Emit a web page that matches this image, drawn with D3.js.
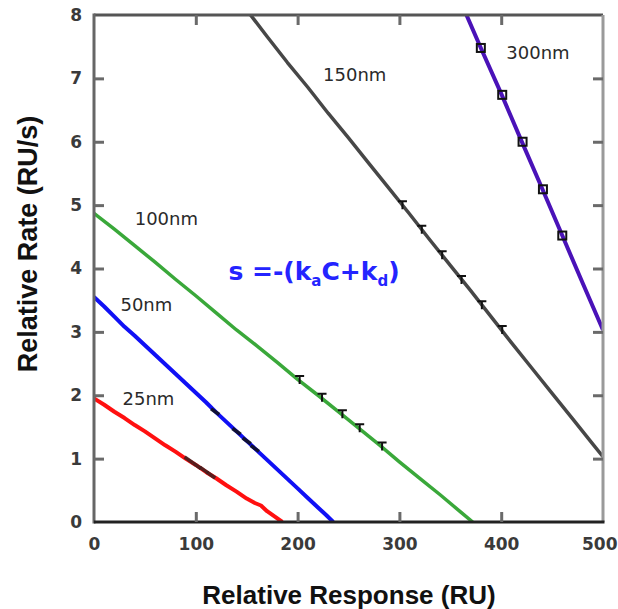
<!DOCTYPE html>
<html><head><meta charset="utf-8">
<script src="https://cdn.jsdelivr.net/npm/d3@7"></script>
<style>html,body{margin:0;padding:0;background:#fff;}svg{display:block;}</style>
</head><body>
<script>
// ---- data ----
const xTicks = [0, 100, 200, 300, 400, 500];
const yTicks = [0, 1, 2, 3, 4, 5, 6, 7, 8];
const seriesNames = ["25nm", "50nm", "100nm", "150nm", "300nm"];
const line25 = [[0,1.95],[10,1.85],[20,1.74],[30,1.64],[40,1.53],[50,1.43],[60,1.32],[70,1.21],[80,1.11],[90,1.00],[100,0.90],[110,0.79],[120,0.69],[130,0.58],[140,0.48],[150,0.37],[158,0.30],[164,0.26],[170,0.17],[178,0.08],[185,0]];
const line50 = [[0,3.55],[10,3.40],[20,3.24],[30,3.08],[40,2.94],[50,2.79],[60,2.64],[70,2.49],[80,2.34],[90,2.19],[100,2.04],[110,1.89],[120,1.73],[130,1.58],[140,1.43],[150,1.28],[160,1.13],[170,0.98],[180,0.83],[190,0.68],[200,0.53],[210,0.38],[220,0.23],[228,0.11],[235,0]];
const line100 = [[0,4.87],[20,4.62],[40,4.36],[60,4.10],[80,3.83],[100,3.57],[120,3.30],[140,3.03],[160,2.78],[180,2.52],[200,2.25],[220,2.00],[240,1.74],[260,1.48],[280,1.22],[300,0.95],[320,0.69],[340,0.43],[360,0.16],[372,0]];
const line150 = [[150,8.08],[170,7.66],[190,7.25],[210,6.86],[230,6.45],[250,6.06],[270,5.66],[290,5.26],[310,4.86],[330,4.45],[350,4.05],[370,3.65],[390,3.24],[410,2.83],[430,2.43],[450,2.03],[470,1.63],[490,1.23],[500,1.03]];
const line300 = [[364,8.07],[380,7.48],[400,6.76],[420,6.01],[440,5.27],[460,4.52],[480,3.77],[500,3.03]];
const pts25 = [[93,0.98],[101,0.89],[108,0.82],[115,0.74]];
const pts50 = [[119,1.74],[140,1.43],[150,1.28],[158,1.16]];
const pts100 = [[202,2.24],[224,1.96],[244,1.70],[261,1.48],[283,1.19]];
const pts150 = [[303,5.00],[322,4.61],[342,4.21],[361,3.82],[381,3.42],[401,3.03]];
const pts300 = [[380,7.48],[401,6.74],[421,6.00],[441,5.25],[460,4.52]];

// ---- layout ----
const W = 618, H = 609;
const L = 94, R = 603, T = 15, B = 522;
const x = d3.scaleLinear().domain([0, 500]).range([L, R]);
const y = d3.scaleLinear().domain([0, 8]).range([B, T]);

const svg = d3.select("body").append("svg").attr("width", W).attr("height", H);
svg.append("defs").append("clipPath").attr("id", "clip")
  .append("rect").attr("x", L).attr("y", T).attr("width", R - L).attr("height", B - T);

const lineGen = d3.line().x(d => x(d[0])).y(d => y(d[1]));
const g = svg.append("g").attr("clip-path", "url(#clip)");

const lines = [
  {d: line25, c: "#ff1010", w: 4},
  {d: line50, c: "#1010f5", w: 4},
  {d: line100, c: "#3aa83a", w: 3.5},
  {d: line150, c: "#474747", w: 3.5},
  {d: line300, c: "#4a12b8", w: 4}
];
lines.forEach(s => {
  g.append("path").datum(s.d).attr("d", lineGen)
    .attr("fill", "none").attr("stroke", s.c).attr("stroke-width", s.w)
    .attr("stroke-linejoin", "round").attr("stroke-linecap", "butt");
});

// markers
function blob(pts, fill) {
  g.selectAll(null).data(pts).enter().append("path")
    .attr("transform", d => `translate(${x(d[0])},${y(d[1])}) rotate(35)`)
    .attr("d", "M-5,-1.8 L5,-1.8 L5,1.8 L-5,1.8 Z").attr("fill", fill).attr("opacity", 0.85);
}
blob(pts25, "#3a2020");
blob(pts50, "#111");
function tee(pts) {
  g.selectAll(null).data(pts).enter().append("path")
    .attr("transform", d => `translate(${x(d[0])},${y(d[1])})`)
    .attr("d", "M-4.5,-4 L4.5,-4 M0,-4 L0,4")
    .attr("stroke", "#111").attr("stroke-width", 2).attr("fill", "none");
}
tee(pts100);
tee(pts150);
g.selectAll(null).data(pts300).enter().append("rect")
  .attr("x", d => x(d[0]) - 4).attr("y", d => y(d[1]) - 4)
  .attr("width", 8).attr("height", 8)
  .attr("fill", "none").attr("stroke", "#111").attr("stroke-width", 2);

// frame
svg.append("line").attr("x1", L).attr("x2", R).attr("y1", T).attr("y2", T).attr("stroke", "#555").attr("stroke-width", 3);
svg.append("line").attr("x1", R).attr("x2", R).attr("y1", T).attr("y2", B).attr("stroke", "#9a9a9a").attr("stroke-width", 3);
svg.append("line").attr("x1", L).attr("x2", L).attr("y1", T - 1.5).attr("y2", B + 1.5).attr("stroke", "#666").attr("stroke-width", 3);
svg.append("line").attr("x1", L).attr("x2", R + 1.5).attr("y1", B).attr("y2", B).attr("stroke", "#222").attr("stroke-width", 3);

// ticks via axes
const tickStyle = sel => {
  sel.select(".domain").remove();
  sel.selectAll(".tick line").attr("stroke", "#6a6a6a").attr("stroke-width", 3);
};
const axB = svg.append("g").attr("transform", `translate(0,${B})`)
  .call(d3.axisBottom(x).tickValues(xTicks).tickSize(-10).tickPadding(16).tickFormat(d3.format("d")));
tickStyle(axB);
axB.selectAll(".tick").filter(d => d === 0 || d === 500).select("line").remove();
axB.selectAll(".tick").filter(d => d === 500).select("text")
  .attr("text-anchor", "end").attr("x", 617 - R);
const axT = svg.append("g").attr("transform", `translate(0,${T})`)
  .call(d3.axisTop(x).tickValues(xTicks.filter(d => d > 0 && d < 500)).tickSize(-10).tickFormat(""));
tickStyle(axT);
const axL = svg.append("g").attr("transform", `translate(${L},0)`)
  .call(d3.axisLeft(y).tickValues(yTicks).tickSize(-10).tickPadding(12).tickFormat(d3.format("d")));
tickStyle(axL);
axL.selectAll(".tick").filter(d => d === 0 || d === 8).select("line").remove();
const axR = svg.append("g").attr("transform", `translate(${R},0)`)
  .call(d3.axisRight(y).tickValues(yTicks.filter(d => d > 0 && d < 8)).tickSize(-10).tickFormat(""));
tickStyle(axR);

[axB, axL].forEach(a => a.selectAll(".tick text")
  .attr("font-family", "DejaVu Sans").attr("font-weight", "bold").attr("font-size", 17).attr("fill", "#3a3a3a"));

// axis titles
svg.append("text").attr("x", 349).attr("y", 604).attr("text-anchor", "middle")
  .attr("font-family", "Liberation Sans").attr("font-weight", "bold").attr("font-size", 26).attr("fill", "#111")
  .text("Relative Response (RU)");
svg.append("text").attr("transform", "translate(37,244) rotate(-90)").attr("text-anchor", "middle")
  .attr("font-family", "Liberation Sans").attr("font-weight", "bold").attr("font-size", 27).attr("fill", "#111")
  .text("Relative Rate (RU/s)");

// series labels
const labelPos = [[28, 1.84], [26, 3.33], [40, 4.69], [225, 6.96], [405, 7.3]];
seriesNames.forEach((n, i) => {
  svg.append("text").attr("x", x(labelPos[i][0])).attr("y", y(labelPos[i][1]))
    .attr("font-family", "DejaVu Sans").attr("font-size", 18).attr("fill", "#2a2a2a")
    .text(n);
});

// formula
const f = svg.append("text").attr("x", x(132)).attr("y", y(3.82))
  .attr("font-family", "DejaVu Sans").attr("font-weight", "bold").attr("font-size", 25).attr("fill", "#2424ff");
f.append("tspan").text("s =-(k");
f.append("tspan").attr("font-size", 15).attr("dy", 6).text("a");
f.append("tspan").attr("dy", -6).text("C+k");
f.append("tspan").attr("font-size", 15).attr("dy", 6).text("d");
f.append("tspan").attr("dy", -6).text(")");
</script>
</body></html>
